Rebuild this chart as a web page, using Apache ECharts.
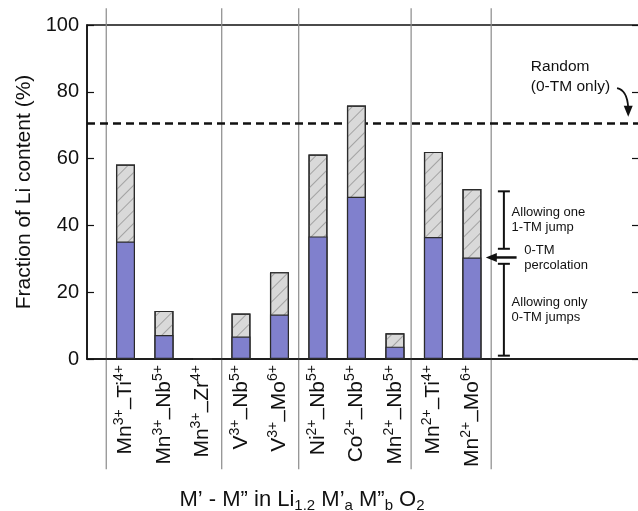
<!DOCTYPE html>
<html><head><meta charset="utf-8">
<script src="https://cdn.jsdelivr.net/npm/echarts@6/dist/echarts.min.js"></script>
<style>html,body{margin:0;padding:0;background:#fff}#c{width:638px;height:511px}</style>
</head><body><div id="c"></div>
<script>
// ---- data ----
const metalA  = ['Mn', 'Mn', 'Mn', 'V', 'V', 'Ni', 'Co', 'Mn', 'Mn', 'Mn'];
const chargeA = ['3+', '3+', '3+', '3+', '3+', '2+', '2+', '2+', '2+', '2+'];
const metalB  = ['Ti', 'Nb', 'Zr', 'Nb', 'Mo', 'Nb', 'Nb', 'Nb', 'Ti', 'Mo'];
const chargeB = ['4+', '5+', '4+', '5+', '6+', '5+', '5+', '5+', '4+', '6+'];
// 0-TM percolation (blue) and with one 1-TM jump (total bar height), % of Li
const zeroTM  = [35.2, 7.2, 0, 6.7, 13.3, 36.7, 48.6, 3.7, 36.5, 30.4];
const oneTM   = [58.2, 14.4, 0, 13.6, 26.0, 61.2, 75.9, 7.7, 62.0, 50.9];
const randomLevel = 70.7;
const yTicks = [0, 20, 40, 60, 80, 100];
// group separators (in category-slot units)
const separators = [0.5, 3.5, 5.5, 8.42, 10.5];
// annotation ranges
const bracketUpper = [33.0, 50.2];
const bracketLower = [1.0, 28.5];
const percolationArrow = 30.4;

const FONT = "'Liberation Sans', Arial, Helvetica, sans-serif";
const slots = metalA.map((m, i) => i + 1);

const chart = echarts.init(document.getElementById('c'), null, {renderer: 'canvas'});

const option = {
  animation: false,
  backgroundColor: '#fff',
  textStyle: {fontFamily: FONT},
  grid: {
    left: 87, right: -1, top: 25, bottom: 152,
    containLabel: false, outerBoundsMode: 'none',
    show: true, borderColor: '#111', borderWidth: 1.5, backgroundColor: 'transparent'
  },
  xAxis: {
    type: 'value', min: 0, max: 14.34, interval: 1,
    splitLine: {show: false},
    axisTick: {show: false},
    axisLine: {show: true, onZero: false, lineStyle: {color: '#111', width: 1.5}},
    axisLabel: {
      rotate: 90, margin: 6, color: '#111', fontFamily: FONT, fontSize: 21,
      showMinLabel: true, showMaxLabel: true,
      formatter: function (v) {
        const i = Math.round(v) - 1;
        if (Math.abs(v - Math.round(v)) > 1e-6 || i < 0 || i >= metalA.length) return '';
        return '{m|' + metalA[i] + '}{sup|' + chargeA[i] + '}{d|–}{m|' + metalB[i] + '}{sup|' + chargeB[i] + '}';
      },
      rich: {
        m: {fontSize: 21, fontFamily: FONT, color: '#111', lineHeight: 26},
        sup: {fontSize: 14, fontFamily: FONT, color: '#111', lineHeight: 14, verticalAlign: 'top'},
        d: {fontSize: 21, fontFamily: FONT, color: '#111', lineHeight: 16, padding: [10, 0, 0, 0]}
      }
    }
  },
  yAxis: [{
    type: 'value', min: 0, max: 100, interval: 20, position: 'left',
    name: 'Fraction of Li content (%)', nameLocation: 'middle', nameGap: 52,
    nameMoveOverlap: false,
    nameTextStyle: {fontSize: 21, color: '#111', fontFamily: FONT},
    splitLine: {show: false},
    axisLine: {show: true, lineStyle: {color: '#111', width: 1.5}},
    axisTick: {show: true, inside: true, length: 7, lineStyle: {color: '#111', width: 1.2}},
    axisLabel: {show: true, margin: 8, fontSize: 20, color: '#111', fontFamily: FONT,
      customValues: yTicks}
  }, {
    type: 'value', min: 0, max: 100, interval: 20, position: 'right',
    splitLine: {show: false},
    axisLine: {show: false},
    axisTick: {show: true, inside: true, length: 7, lineStyle: {color: '#111', width: 1.2}},
    axisLabel: {show: false}
  }],
  series: [
    {
      name: 'Allowing one 1-TM jump', type: 'bar', barWidth: 19, barGap: '-100%',
      data: slots.map((x, i) => [x, oneTM[i]]),
      itemStyle: {
        color: '#d9d9d9', borderColor: '#2b2b2b', borderWidth: 1.2,
        decal: {symbol: 'rect', symbolSize: 1, color: 'rgba(140,140,140,0.7)',
          dashArrayX: [1, 0], dashArrayY: [1, 8], rotation: -Math.PI / 4}
      },
      markLine: {
        silent: true, symbol: ['none', 'none'], z: 1,
        label: {show: false},
        lineStyle: {color: '#111', width: 2.5, type: [8, 5]},
        data: [{yAxis: randomLevel}]
      }
    },
    {
      name: 'Allowing only 0-TM jumps', type: 'bar', barWidth: 19, barGap: '-100%',
      data: slots.map((x, i) => [x, zeroTM[i]]),
      itemStyle: {color: '#8080cd', borderColor: '#2b2b2b', borderWidth: 1.2}
    },
    {
      name: 'separators', type: 'custom', silent: true, clip: false, z: 0,
      data: separators.map(s => [s, 0]),
      renderItem: function (params, api) {
        const x = api.value(0);
        const p1 = api.coord([x, 105]);
        const p2 = api.coord([x, -33]);
        return {type: 'line', shape: {x1: p1[0], y1: p1[1], x2: p2[0], y2: p2[1]},
          style: {stroke: '#8a8a8a', lineWidth: 1.2}};
      }
    },
    {
      name: 'annotations', type: 'custom', silent: true, clip: false, z: 5,
      data: [[0, 0]],
      renderItem: function (params, api) {
        const bx = 10.83;
        const children = [];
        function bracket(r) {
          const a = api.coord([bx, r[0]]), b = api.coord([bx, r[1]]);
          const s = {stroke: '#111', lineWidth: 2};
          children.push({type: 'line', shape: {x1: a[0], y1: a[1], x2: b[0], y2: b[1]}, style: s});
          children.push({type: 'line', shape: {x1: a[0] - 6, y1: a[1], x2: a[0] + 6, y2: a[1]}, style: s});
          children.push({type: 'line', shape: {x1: b[0] - 6, y1: b[1], x2: b[0] + 6, y2: b[1]}, style: s});
        }
        bracket(bracketUpper);
        bracket(bracketLower);
        // percolation arrow
        const t = api.coord([10.36, percolationArrow]);
        const e = api.coord([11.16, percolationArrow]);
        children.push({type: 'line', shape: {x1: t[0] + 9, y1: t[1], x2: e[0], y2: e[1]},
          style: {stroke: '#111', lineWidth: 2.5}});
        children.push({type: 'polygon', shape: {points: [[t[0], t[1]], [t[0] + 11, t[1] - 4.5], [t[0] + 11, t[1] + 4.5]]},
          style: {fill: '#111'}});
        // texts
        function txt(x, y, str, size, lh) {
          const p = api.coord([x, y]);
          children.push({type: 'text', x: p[0], y: p[1],
            style: {text: str, fill: '#111', fontSize: size, fontFamily: FONT,
              align: 'left', verticalAlign: 'middle', lineHeight: lh}});
        }
        txt(11.03, (bracketUpper[0] + bracketUpper[1]) / 2, 'Allowing one\n1-TM jump', 13, 15);
        txt(11.36, percolationArrow, '0-TM\npercolation', 13, 15);
        txt(11.03, (bracketLower[0] + bracketLower[1]) / 2, 'Allowing only\n0-TM jumps', 13, 15);
        txt(11.53, 84.5, 'Random\n(0-TM only)', 15.5, 20);
        // curved arrow to the random line
        const s0 = api.coord([13.77, 81.1]);
        const tip = api.coord([14.06, 72.5]);
        children.push({type: 'bezierCurve', shape: {x1: s0[0], y1: s0[1], x2: tip[0], y2: tip[1] - 9,
            cpx1: tip[0] - 1, cpy1: s0[1] + 2},
          style: {stroke: '#111', lineWidth: 1.8, fill: null}});
        children.push({type: 'polygon', shape: {points: [[tip[0], tip[1]], [tip[0] - 4.5, tip[1] - 11], [tip[0] + 4.5, tip[1] - 11]]},
          style: {fill: '#111'}});
        return {type: 'group', children: children};
      }
    }
  ],
  graphic: [{
    type: 'text', x: 302, y: 500,
    style: {
      text: '{m|M’ - M” in Li}{s|1.2}{m| M’}{s|a}{m| M”}{s|b}{m| O}{s|2}',
      align: 'center', verticalAlign: 'middle',
      rich: {
        m: {fontSize: 22, fontFamily: FONT, fill: '#111', lineHeight: 26},
        s: {fontSize: 15, fontFamily: FONT, fill: '#111', lineHeight: 16, verticalAlign: 'bottom'}
      }
    }
  }]
};
chart.setOption(option);
</script>
</body></html>
